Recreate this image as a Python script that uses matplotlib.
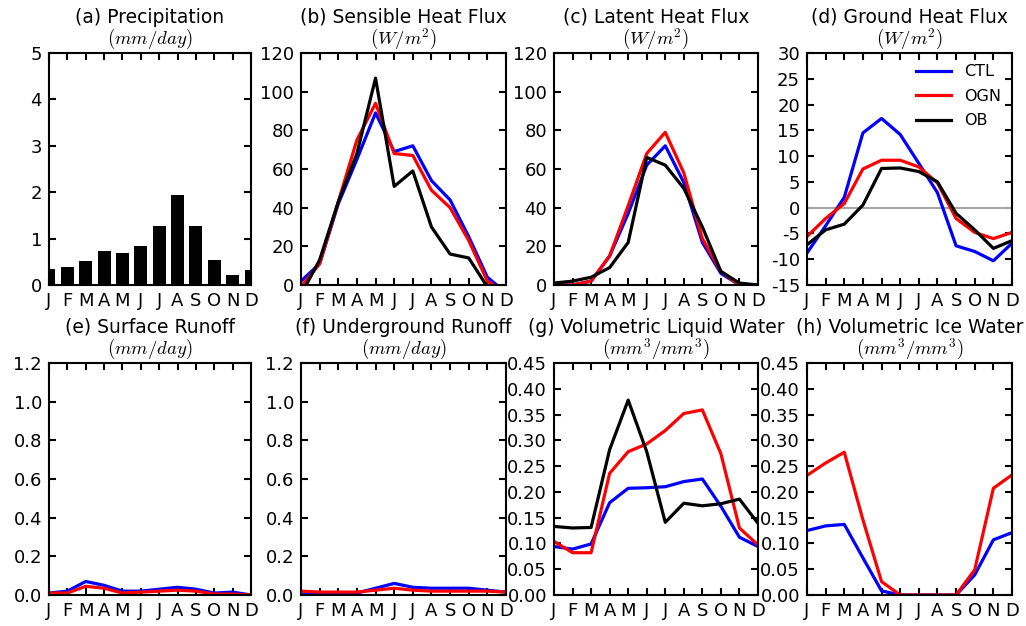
import numpy as np
import matplotlib
matplotlib.use("Agg")
from matplotlib import pyplot as plt

plt.rcParams['mathtext.fontset'] = 'cm'
plt.rcParams['axes.unicode_minus'] = False
plt.rcParams['font.family'] = ['DejaVu Sans']

months = ['J', 'F', 'M', 'A', 'M', 'J', 'J', 'A', 'S', 'O', 'N', 'D']

precip = [0.35, 0.38, 0.51, 0.74, 0.69, 0.84, 1.27, 1.94, 1.27, 0.54, 0.22, 0.32]

sh_ctl = [2, 11, 42, 65, 89, 69, 72, 54, 44, 25, 4, -4]
sh_ogn = [-1, 11, 43, 75, 94, 68, 67, 49, 40, 23, 2, -4]
sh_ob = [-5, 13, 43, 68, 107, 51, 59, 30, 16, 14, -1, -6]

lh_ctl = [0, 0, 2, 15, 37, 62, 72, 53, 22, 6, 0, 0]
lh_ogn = [0, 0, 2, 15, 41, 68, 79, 58, 24, 7, 0, 0]
lh_ob = [1, 2, 4, 9, 22, 66, 62, 50, 30, 7, 1, 0]

gh_ctl = [-8.8, -3.5, 2.0, 14.5, 17.3, 14.2, 8.6, 2.9, -7.4, -8.5, -10.3, -6.9]
gh_ogn = [-5.6, -2.1, 0.8, 7.5, 9.2, 9.2, 7.9, 4.8, -2.1, -4.8, -6.0, -4.8]
gh_ob = [-7.2, -4.3, -3.2, 0.5, 7.6, 7.7, 7.0, 5.0, -1.1, -4.3, -7.9, -6.4]

sr_ctl = [0.01, 0.02, 0.07, 0.05, 0.02, 0.02, 0.03, 0.04, 0.03, 0.01, 0.015, 0.0]
sr_ogn = [0.01, 0.01, 0.045, 0.035, 0.01, 0.015, 0.02, 0.025, 0.02, 0.005, 0.005, 0.0]

ur_ctl = [0.005, 0.005, 0.005, 0.01, 0.035, 0.06, 0.04, 0.035, 0.035, 0.035, 0.025, 0.015]
ur_ogn = [0.02, 0.015, 0.015, 0.015, 0.025, 0.035, 0.025, 0.02, 0.02, 0.02, 0.02, 0.015]

lw_ctl = [0.094, 0.089, 0.099, 0.179, 0.207, 0.208, 0.210, 0.220, 0.225, 0.172, 0.112, 0.094]
lw_ogn = [0.104, 0.082, 0.082, 0.236, 0.278, 0.293, 0.319, 0.352, 0.359, 0.274, 0.130, 0.097]
lw_ob = [0.133, 0.130, 0.131, 0.282, 0.378, 0.278, 0.141, 0.178, 0.173, 0.177, 0.186, 0.139]

iw_ctl = [0.125, 0.134, 0.137, 0.072, 0.008, 0.0, 0.0, 0.0, 0.0, 0.039, 0.107, 0.121]
iw_ogn = [0.232, 0.256, 0.277, 0.146, 0.026, 0.0, 0.0, 0.0, 0.0, 0.049, 0.207, 0.233]

x = np.arange(12)

fig = plt.figure(figsize=(10.26, 6.26), dpi=100)

W, H = 1026.0, 626.0
cols = [(49, 251), (301, 506), (554, 758), (807, 1012)]
rows = [(53, 285), (363, 595)]


def make_ax(r, c):
    l, rr = cols[c]
    t, b = rows[r]
    ax = fig.add_axes([l / W, 1 - b / H, (rr - l) / W, (b - t) / H])
    for s in ax.spines.values():
        s.set_linewidth(1.5)
    ax.tick_params(direction='in', top=True, right=True, length=5, width=1.5,
                   labelsize=13, pad=5)
    ax.set_xlim(0, 11)
    ax.set_xticks(x)
    ax.set_xticklabels(months)
    return ax


def titles(ax, title, unit):
    ax.text(0.5, 1.155, title, transform=ax.transAxes, ha='center', va='center',
            fontsize=13.5)
    ax.text(0.5, 1.06, unit, transform=ax.transAxes, ha='center', va='center',
            fontsize=13.5)


def lines(ax, series):
    for vals, col, lab in series:
        ax.plot(x, vals, color=col, lw=2.3, label=lab)


# (a)
ax = make_ax(0, 0)
ax.bar(x, precip, width=0.7, color='k')
ax.set_ylim(0, 5)
ax.set_yticks(range(6))
titles(ax, '(a) Precipitation', r'$(mm/day)$')

# (b)
ax = make_ax(0, 1)
lines(ax, [(sh_ctl, 'b', 'CTL'), (sh_ogn, 'r', 'OGN'), (sh_ob, 'k', 'OB')])
ax.set_ylim(0, 120)
ax.set_yticks(range(0, 121, 20))
titles(ax, '(b) Sensible Heat Flux', r'$(W/m^2)$')

# (c)
ax = make_ax(0, 2)
lines(ax, [(lh_ctl, 'b', 'CTL'), (lh_ogn, 'r', 'OGN'), (lh_ob, 'k', 'OB')])
ax.set_ylim(0, 120)
ax.set_yticks(range(0, 121, 20))
titles(ax, '(c) Latent Heat Flux', r'$(W/m^2)$')

# (d)
ax = make_ax(0, 3)
ax.axhline(0, color='0.65', lw=1.5)
lines(ax, [(gh_ctl, 'b', 'CTL'), (gh_ogn, 'r', 'OGN'), (gh_ob, 'k', 'OB')])
ax.set_ylim(-15, 30)
ax.set_yticks(range(-15, 31, 5))
titles(ax, '(d) Ground Heat Flux', r'$(W/m^2)$')
ax.legend(loc='upper right', frameon=False, fontsize=11.5, handlelength=2.2,
          borderaxespad=0.3, labelspacing=0.6)

# (e)
ax = make_ax(1, 0)
lines(ax, [(sr_ctl, 'b', 'CTL'), (sr_ogn, 'r', 'OGN')])
ax.set_ylim(0, 1.2)
ax.set_yticks(np.arange(0, 1.21, 0.2))
ax.set_yticklabels(['%.1f' % v for v in np.arange(0, 1.21, 0.2)])
titles(ax, '(e) Surface Runoff', r'$(mm/day)$')

# (f)
ax = make_ax(1, 1)
lines(ax, [(ur_ctl, 'b', 'CTL'), (ur_ogn, 'r', 'OGN')])
ax.set_ylim(0, 1.2)
ax.set_yticks(np.arange(0, 1.21, 0.2))
ax.set_yticklabels(['%.1f' % v for v in np.arange(0, 1.21, 0.2)])
titles(ax, '(f) Underground Runoff', r'$(mm/day)$')

# (g)
ax = make_ax(1, 2)
lines(ax, [(lw_ctl, 'b', 'CTL'), (lw_ogn, 'r', 'OGN'), (lw_ob, 'k', 'OB')])
ax.set_ylim(0, 0.45)
ax.set_yticks(np.arange(0, 0.451, 0.05))
ax.set_yticklabels(['%.2f' % v for v in np.arange(0, 0.451, 0.05)])
titles(ax, '(g) Volumetric Liquid Water', r'$(mm^3/mm^3)$')

# (h)
ax = make_ax(1, 3)
lines(ax, [(iw_ctl, 'b', 'CTL'), (iw_ogn, 'r', 'OGN')])
ax.set_ylim(0, 0.45)
ax.set_yticks(np.arange(0, 0.451, 0.05))
ax.set_yticklabels(['%.2f' % v for v in np.arange(0, 0.451, 0.05)])
titles(ax, '(h) Volumetric Ice Water', r'$(mm^3/mm^3)$')

fig.savefig('out.png', dpi=100)
